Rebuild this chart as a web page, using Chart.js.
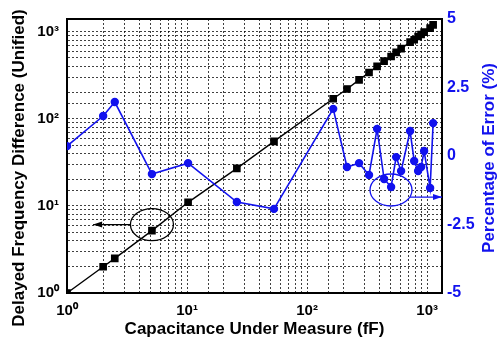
<!DOCTYPE html>
<html>
<head>
<meta charset="utf-8">
<script src="https://cdn.jsdelivr.net/npm/chart.js@4.4.0/dist/chart.umd.min.js"></script>
<style>
  html, body { margin: 0; padding: 0; background: #fff; }
</style>
</head>
<body>
<canvas id="chart" width="501" height="340"></canvas>
<script>
// Données
const capacitance = [1, 2, 2.5, 5.1, 10.2, 26, 53, 165, 215, 271, 328, 383, 438, 501, 552, 607, 721, 780, 841, 891, 944, 1059, 1122];
const delayDiff   = [1, 2, 2.5, 5.2, 11, 27, 55, 170, 220, 280, 340, 400, 460, 520, 580, 640, 760, 810, 880, 930, 990, 1100, 1200];
const errorPct    = [0.36, 1.46, 1.97, -0.66, -0.26, -1.68, -1.93, 1.72, -0.40, -0.26, -0.69, 0.99, -0.84, -1.13, -0.04, -0.55, 0.91, -0.18, -0.55, -0.40, 0.18, -1.17, 1.2];
const errorTicks  = [-5, -2.5, 0, 2.5, 5];

const BLUE = '#1212ee';
const FONT = "'Liberation Sans', Arial, sans-serif";
const sup = ['\u2070', '\u00b9', '\u00b2', '\u00b3'];

// étiquette 10^n seulement sur les décades
function decadeLabel(v) {
  const e = Math.round(Math.log10(v));
  if (Math.abs(Math.log10(v) - e) > 1e-9) return '';
  return '10' + sup[e];
}

// grille pointillée
const grid = { color: 'rgba(0,0,0,0.75)', lineWidth: 1, drawTicks: false };
const border = { color: '#000', width: 2, dash: [2, 2] };

// titres verticaux + cadre + ellipses et flèches
const decor = {
  id: 'decor',
  afterDatasetsDraw(chart) {
    const { ctx, chartArea: a, scales: { x, y, y1 } } = chart;
    ctx.save();
    // cadre (haut manquant)
    ctx.strokeStyle = '#000';
    ctx.lineWidth = 2;
    ctx.beginPath();
    ctx.moveTo(a.left, a.top);
    ctx.lineTo(a.right, a.top);
    ctx.stroke();

    function arrow(x1, yy, x2, color) {
      ctx.strokeStyle = color;
      ctx.fillStyle = color;
      ctx.lineWidth = 1.3;
      ctx.beginPath();
      ctx.moveTo(x1, yy);
      ctx.lineTo(x2, yy);
      ctx.stroke();
      const d = x2 > x1 ? 1 : -1;
      ctx.beginPath();
      ctx.moveTo(x2, yy);
      ctx.lineTo(x2 - d * 9, yy - 3);
      ctx.lineTo(x2 - d * 9, yy + 3);
      ctx.closePath();
      ctx.fill();
    }

    // ellipse noire sur la courbe de gauche
    const cx1 = x.getPixelForValue(5.1), cy1 = y.getPixelForValue(6.1);
    ctx.strokeStyle = '#000';
    ctx.lineWidth = 1.3;
    ctx.beginPath();
    ctx.ellipse(cx1, cy1, 21.5, 16, 0, 0, Math.PI * 2);
    ctx.stroke();
    arrow(cx1 - 21.5, cy1, x.getPixelForValue(1.65), '#000');

    // ellipse bleue sur la courbe d'erreur
    const cx2 = x.getPixelForValue(500), cy2 = y1.getPixelForValue(-1.24);
    ctx.strokeStyle = BLUE;
    ctx.lineWidth = 1.3;
    ctx.beginPath();
    ctx.ellipse(cx2, cy2, 21, 16, 0, 0, Math.PI * 2);
    ctx.stroke();
    arrow(cx2 + 19, y1.getPixelForValue(-1.5), a.right, BLUE);

    // titres des axes verticaux
    ctx.font = 'bold 17px ' + FONT;
    ctx.textAlign = 'center';
    ctx.textBaseline = 'middle';
    ctx.fillStyle = '#000';
    ctx.translate(19, (a.top + a.bottom) / 2 + 12);
    ctx.rotate(-Math.PI / 2);
    ctx.fillText('Delayed Frequency Difference (Unified)', 0, 0);
    ctx.setTransform(1, 0, 0, 1, 0, 0);
    ctx.fillStyle = BLUE;
    ctx.translate(chart.width - 12, (a.top + a.bottom) / 2 + 2);
    ctx.rotate(-Math.PI / 2);
    ctx.fillText('Percentage of Error (%)', 0, 0);
    ctx.restore();
  }
};

new Chart(document.getElementById('chart'), {
  type: 'line',
  data: {
    datasets: [{
      label: 'Percentage of Error (%)',
      data: capacitance.map((c, i) => ({ x: c, y: errorPct[i] })),
      yAxisID: 'y1',
      borderColor: BLUE,
      backgroundColor: BLUE,
      borderWidth: 1.6,
      pointStyle: 'circle',
      pointRadius: 3.4,
      tension: 0
    }, {
      label: 'Delayed Frequency Difference',
      data: capacitance.map((c, i) => ({ x: c, y: delayDiff[i] })),
      yAxisID: 'y',
      borderColor: '#000',
      backgroundColor: '#000',
      borderWidth: 1.4,
      pointStyle: 'rect',
      pointRadius: 4.4,
      tension: 0
    }]
  },
  options: {
    responsive: false,
    animation: false,
    devicePixelRatio: 1,
    layout: { padding: { top: 19, left: 0, right: 0, bottom: 0 } },
    plugins: { legend: { display: false }, tooltip: { enabled: false } },
    scales: {
      x: {
        type: 'logarithmic',
        min: 1,
        max: 1330,
        grid: grid,
        border: border,
        afterFit: s => { s.height = 47; },
        ticks: {
          autoSkip: false, maxRotation: 0, padding: 9,
          color: '#000', font: { family: FONT, size: 15, weight: 'bold' },
          callback: decadeLabel
        },
        title: {
          display: true, text: 'Capacitance Under Measure (fF)',
          color: '#000', font: { family: FONT, size: 17, weight: 'bold' },
          padding: { top: 0, bottom: 0 }
        }
      },
      y: {
        type: 'logarithmic',
        position: 'left',
        min: 1,
        max: 1400,
        grid: grid,
        border: border,
        afterFit: s => { s.width = 67; },
        ticks: {
          autoSkip: false, padding: 8,
          color: '#000', font: { family: FONT, size: 15, weight: 'bold' },
          callback: decadeLabel
        }
      },
      y1: {
        type: 'linear',
        position: 'right',
        min: -5,
        max: 5,
        afterBuildTicks: s => { s.ticks = errorTicks.map(v => ({ value: v })); },
        grid: { drawOnChartArea: false, drawTicks: false },
        border: { color: '#000', width: 2 },
        afterFit: s => { s.width = 59; },
        ticks: {
          padding: 5,
          color: BLUE, font: { family: FONT, size: 16, weight: 'bold' },
          callback: v => String(v)
        }
      }
    }
  },
  plugins: [decor]
});
</script>
</body>
</html>
